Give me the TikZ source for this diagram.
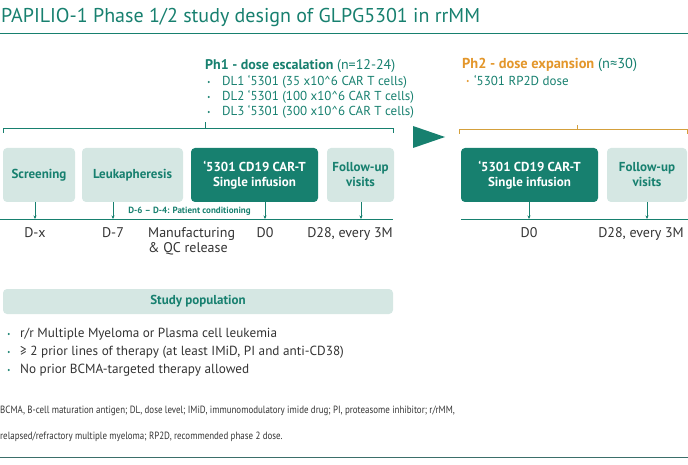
\documentclass[tikz,border=0pt]{standalone}
\usepackage{fontspec}
\setmainfont{PT Sans}
\newfontfamily\papnarrow[FakeStretch=0.85]{PT Sans}
\usetikzlibrary{positioning,arrows.meta}
\definecolor{papteal}{HTML}{17806F}
\definecolor{paplight}{HTML}{D5E7E3}
\definecolor{paporange}{HTML}{E3962A}
\definecolor{papgold}{HTML}{D4A03C}
\definecolor{paptext}{HTML}{333333}
\definecolor{paprule}{HTML}{3B6F6A}

\begin{document}
\begin{tikzpicture}[x=1pt,y=-1pt,
	lightbox/.style={fill=paplight,rounded corners=4pt,text=papteal,align=center,inner sep=0pt,minimum height=54pt,font=\bfseries\fontsize{13}{15}\selectfont},
	darkbox/.style={lightbox,fill=papteal,text=white},
	tick/.style={papteal,-{Stealth[length=3.5pt,width=3pt]}},
	day/.style={text=paptext,inner sep=0pt,font=\fontsize{14}{15.5}\selectfont},
	head/.style={anchor=west,inner sep=0pt,text=papteal,font=\fontsize{14}{16}\selectfont},
	item/.style={text=papteal,inner sep=0pt,anchor=west,font=\fontsize{13}{15}\selectfont},
	crit/.style={item,text=paptext,font=\fontsize{13.2}{15}\selectfont},
	note/.style={anchor=west,inner sep=0pt,text=paptext,font=\papnarrow\fontsize{10.5}{12}\selectfont},
	dot/.style={circle,fill=papteal,inner sep=0pt,minimum size=2.2pt}]
	\useasboundingbox (0,0) rectangle (688,465);
	% title
	\node[anchor=west,inner sep=0pt,text=papteal,font=\fontsize{20}{22}\selectfont] (title) at (1,18) {PAPILIO-1 Phase 1/2 study design of GLPG5301 in rrMM};
	\draw[papteal,thick] (0,33) -- (688,33);
	% phase 1 header
	\node[head] (ph1) at (205,66) {\textbf{Ph1 - dose escalation} (n=12-24)};
	\node[item] (dl1) at (222,82) {DL1 ‘5301 (35 x10\^{}6 CAR T cells)};
	\node[item] (dl2) at (222,97) {DL2 ‘5301 (100 x10\^{}6 CAR T cells)};
	\node[item] (dl3) at (222,112) {DL3 ‘5301 (300 x10\^{}6 CAR T cells)};
	\node[dot,left=12pt of dl1.west] {};
	\node[dot,left=12pt of dl2.west] {};
	\node[dot,left=12pt of dl3.west] {};
	% phase 2 header
	\node[head,font=\fontsize{14.4}{16}\selectfont] (ph2) at (462,65) {\textcolor{paporange}{\textbf{Ph2 - dose expansion}} (n≈30)};
	\node[item] (rp2d) at (474,81) {‘5301 RP2D dose};
	\node[dot,fill=paporange,left=5pt of rp2d.west] {};
	% brackets
	\draw[papteal] (3,133) -- (3,128) -- (393,128) -- (393,133);
	\draw[papteal] (205,128) -- (205,122);
	\draw[papgold] (459,134) -- (459,129) -- (687,129) -- (687,134);
	\draw[papgold] (577,129) -- (577,125);
	\fill[papteal] (413,126) -- (445,137) -- (413,148) -- cycle;
	% phase 1 boxes
	\node[lightbox,minimum width=72pt] (scr) at (39,175) {Screening};
	\node[lightbox,minimum width=101pt] (leuk) at (132.5,175) {Leukapheresis};
	\node[darkbox,minimum width=127pt] (inf1) at (254.5,175) {‘5301 CD19 CAR-T\\Single infusion};
	\node[lightbox,minimum width=67pt] (fu1) at (360.5,175) {Follow-up\\visits};
	% phase 2 boxes
	\node[darkbox,minimum width=137pt] (inf2) at (529.5,175) {‘5301 CD19 CAR-T\\Single infusion};
	\node[lightbox,minimum width=80pt] (fu2) at (647,175) {Follow-up\\visits};
	% timelines
	\draw[papteal] (0,219) -- (393,219);
	\draw[papteal] (461,219) -- (688,219);
	\coordinate (tscr) at (35,219);
	\coordinate (tleuk) at (113,219);
	\coordinate (tinf1) at (265,219);
	\coordinate (tfu1) at (361,219);
	\coordinate (tinf2) at (529,219);
	\coordinate (tfu2) at (647,219);
	\draw[tick] (scr.south -| tscr) -- (tscr);
	\draw[tick] (leuk.south -| tleuk) -- (tleuk);
	\draw[tick] (inf1.south -| tinf1) -- (tinf1);
	\draw[tick] (fu1.south -| tfu1) -- (tfu1);
	\draw[tick] (inf2.south -| tinf2) -- (tinf2);
	\draw[tick] (fu2.south -| tfu2) -- (tfu2);
	\node[inner sep=0pt,text=papteal,font=\bfseries\fontsize{9}{10}\selectfont] (cond) at (189.5,211) {D-6 – D-4: Patient conditioning};
	\node[day,below=8pt of tscr] (dx) {D-x};
	\node[day,below=8pt of tleuk] (d7) {D-7};
	\node[day,below=8pt of tinf1] (d0a) {D0};
	\node[day,anchor=north east] (d28a) at (393,227) {D28, every 3M};
	\node[day,below=8pt of tinf2] (d0b) {D0};
	\node[day,anchor=north east] (d28b) at (684,227) {D28, every 3M};
	\node[day,anchor=north west,align=left] (manu) at (148,227) {Manufacturing\\\& QC release};
	% study population
	\node[lightbox,minimum width=390pt,minimum height=25pt] (pop) at (198,301.5) {Study population};
	\node[crit] (c1) at (20,334) {r/r Multiple Myeloma or Plasma cell leukemia};
	\node[crit] (c2) at (20,352) {≥ 2 prior lines of therapy (at least IMiD, PI and anti-CD38)};
	\node[crit] (c3) at (20,370) {No prior BCMA-targeted therapy allowed};
	\node[dot,left=10pt of c1.west] {};
	\node[dot,left=10pt of c2.west] {};
	\node[dot,left=10pt of c3.west] {};
	% footnote
	\node[note] (abbr1) at (0,411) {BCMA, B-cell maturation antigen; DL, dose level; IMiD, immunomodulatory imide drug; PI, proteasome inhibitor; r/rMM,};
	\node[note] (abbr2) at (0,437) {relapsed/refractory multiple myeloma; RP2D, recommended phase 2 dose.};
	\draw[paprule,thick] (0,457) -- (688,457);
\end{tikzpicture}
\end{document}
